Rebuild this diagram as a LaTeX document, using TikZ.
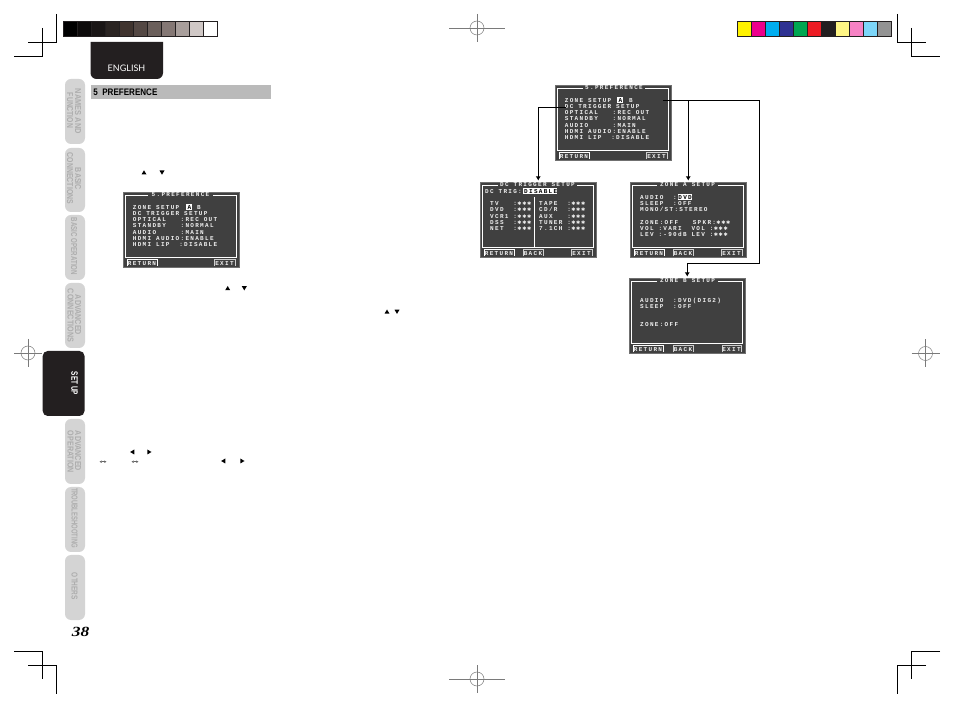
\documentclass[tikz,border=0pt]{standalone}
\usepackage{fontspec}
\setmainfont{Liberation Sans}
\newfontfamily\scrfont[LetterSpace=21.7]{Liberation Mono Bold}
\newfontfamily\symfont{DejaVu Sans}
\newfontfamily\langfont{Lato}
\newfontfamily\pagefont[FakeStretch=1.25]{Liberation Serif}
\usetikzlibrary{arrows.meta}
\definecolor{ink}{HTML}{231F20}
\definecolor{scrbg}{HTML}{404040}
\definecolor{tabgrey}{HTML}{D4D4D4}
\definecolor{tabtext}{HTML}{ADADAD}
\definecolor{regmark}{HTML}{7A7A7A}
\newcommand\scrf{\scrfont\fontsize{6}{6}\selectfont\fontdimen2\font=4.9pt\relax}
\tikzset{
  crop/.style={draw=black,line width=0.8pt},
  regline/.style={draw=regmark,line width=0.5pt},
  swatch/.style={draw=ink,line width=0.7pt,minimum width=14pt,minimum height=15pt,inner sep=0pt,anchor=north west},
  sidetab/.style={fill=tabgrey,draw=none,rounded corners=6pt},
  tablabel/.style={text=tabtext,rotate=-90,inner sep=0pt,font=\bfseries},
  scrbox/.style={fill=scrbg,draw=scrbg!75!white,line width=0.5pt,minimum width=116pt,minimum height=75pt,inner sep=0pt,anchor=north west},
  scrframe/.style={draw=white,line width=0.9pt},
  scrbtn/.style={draw=white,line width=0.9pt},
  scrbtnthin/.style={draw=white!75!scrbg,line width=0.5pt},
  scrtext/.style={text=white!92!scrbg,inner sep=0pt,anchor=west,yshift=-0.6pt,font=\scrf},
  scrmid/.style={text=white!92!scrbg,inner sep=0pt,anchor=center,yshift=-0.6pt,font=\scrf},
  scrinv/.style={text=black,inner sep=0pt,anchor=west,yshift=-0.6pt,font=\scrf},
  conn/.style={draw=black,line width=0.8pt,-{Latex[length=4pt,width=5pt]},shorten >=1.5pt},
  mini/.style={fill=black,draw=none},
  dblarrow/.style={draw=black!60,line width=0.4pt,{Latex[length=2.2pt,width=2.8pt]}-{Latex[length=2.2pt,width=2.8pt]}},
}
\newcount\rowcnt
\newcommand\st{{\symfont\fontsize{5}{5}\selectfont\makebox[4.9pt][c]{✱}}}
\newcommand\row[3]{\global\advance\rowcnt by 1 \node[scrtext] (txt\the\rowcnt) at (#1,#2) {#3};}
\newcommand\hilite[5]{\fill[white] (#1,#3-3) rectangle (#2,#3+3);\global\advance\rowcnt by 1 \node[scrinv] (txt\the\rowcnt) at (#4,#3) {#5};}
% name, x, y, title, gap-left, gap-right
\newcommand\screen[6]{%
  \node[scrbox] (#1) at (#2,#3) {};
  \begin{scope}[shift={(#2,#3)}]
    \draw[scrframe] (#5,3.5) -- (2.5,3.5) -- (2.5,65) -- (113.5,65) -- (113.5,3.5) -- (#6,3.5);
    \node[scrmid] (#1title) at ({(#5+#6)/2},2) {#4};
  \end{scope}}
% x1, x2, label, style  (inside a scope of the screen)
\newcommand\btn[5]{\draw[#4] (#1,74.5) -- (#1,67.2) -- (#2,67.2) -- (#2,74.5);\node[scrmid] (#5) at ({(#1+#2)/2},71) {#3};}
\newcommand\regm[4]{% name x y long-half
  \draw[regline] (#2-#4,#3) -- (#2+#4,#3);
  \draw[regline] (#2,#3-14) -- (#2,#3+14);
  \draw[regline] (#2,#3) circle[radius=7pt];}
\newcommand\triup[2]{\fill[mini] (#1-2.5,#2+2) -- (#1+2.5,#2+2) -- (#1,#2-2.2) -- cycle;}
\newcommand\tridn[2]{\fill[mini] (#1-2.5,#2-2) -- (#1+2.5,#2-2) -- (#1,#2+2.2) -- cycle;}
\newcommand\trilf[2]{\fill[mini] (#1+2,#2-2.5) -- (#1+2,#2+2.5) -- (#1-2.2,#2) -- cycle;}
\newcommand\trirt[2]{\fill[mini] (#1-2,#2-2.5) -- (#1-2,#2+2.5) -- (#1+2.2,#2) -- cycle;}
\newcommand\tablab[5]{\node[tablabel] (#1) at (#2,#3) {\resizebox{#4pt}{6pt}{#5}};}
\begin{document}
\begin{tikzpicture}[x=1pt,y=-1pt]
\useasboundingbox (0,0) rectangle (954,708);
\fill[white] (0,0) rectangle (954,708);
% crop marks
\draw[crop] (56.7,14) -- (56.7,42.7) -- (28,42.7);
\draw[crop] (42.7,28) -- (42.7,56.7) -- (14,56.7);
\draw[crop] (897.7,14) -- (897.7,42.7) -- (925.7,42.7);
\draw[crop] (911.7,28) -- (911.7,56.7) -- (940,56.7);
\draw[crop] (14,651.3) -- (42.7,651.3) -- (42.7,678.7);
\draw[crop] (28,665.3) -- (56.7,665.3) -- (56.7,694);
\draw[crop] (940,651.3) -- (911.3,651.3) -- (911.3,678.7);
\draw[crop] (926,665.3) -- (897.3,665.3) -- (897.3,694);
% registration marks
\regm{ra}{477}{28}{28}
\regm{rb}{477}{679}{28}
\regm{rc}{28}{353}{14}
\regm{rd}{925.5}{353.5}{14}
% colour bars
\foreach \c [count=\i from 0] in {000000,0D0B0B,1A1616,2A2422,40342F,544844,6B5F5B,847774,A89E9B,D0C8C6,FFFFFF}{
  \definecolor{cc}{HTML}{\c}
  \node[swatch,fill=cc] (g\i) at ({63.3+14*\i},21) {};
}
\foreach \c [count=\i from 0] in {FFF200,EC008C,00AEEF,2E3192,00A651,ED1C24,231F20,FFF685,F682C4,7DD6F9,939393}{
  \definecolor{cc}{HTML}{\c}
  \node[swatch,fill=cc] (k\i) at ({737.3+13.95*\i},21) {};
}
% language tab
\fill[ink] (90.5,42) -- (163,42) -- (163,73) arc[start angle=0,end angle=-90,radius=6pt] -- (96.5,79) arc[start angle=-90,end angle=-180,radius=6pt] -- cycle;
\node[text=white,inner sep=0pt,font=\langfont\fontsize{9}{9}\selectfont] (lang) at (126.5,68.3) {ENGLISH};
% heading bar
\fill[black!27] (91,85) rectangle (271,99);
\node[inner sep=0pt,anchor=west,font=\bfseries] (head) at (93.2,92) {\resizebox{64pt}{6.6pt}{5\ \ PREFERENCE}};
% side tabs
\fill[sidetab] (65,79) rectangle (85,144);
\fill[sidetab] (65,148) rectangle (85,212);
\fill[sidetab] (65,215) rectangle (85,280);
\fill[sidetab] (65,283) rectangle (85,348);
\fill[ink,rounded corners=5pt] (42.7,351) rectangle (84.5,416);
\fill[sidetab] (65,419) rectangle (85,484);
\fill[sidetab] (65,487) rectangle (85,552);
\fill[sidetab] (65,555) rectangle (85,620);
\tablab{t1a}{78}{111.5}{45}{NAMES AND}
\tablab{t1b}{70}{110.5}{35}{FUNCTION}
\tablab{t2a}{78}{179}{22}{BASIC}
\tablab{t2b}{70}{178.5}{51}{CONNECTIONS}
\tablab{t3}{74}{246.5}{57}{BASIC OPERATION}
\tablab{t4a}{78}{315}{40}{ADVANCED}
\tablab{t4b}{70.5}{315.5}{53}{CONNECTIONS}
\node[tablabel,text=white] (t5) at (74.5,383.5) {\resizebox{23pt}{6.5pt}{SET UP}};
\tablab{t6a}{78}{451}{40}{ADVANCED}
\tablab{t6b}{70.5}{452}{42}{OPERATION}
\tablab{t7}{74.5}{518}{60}{TROUBLESHOOTING}
\tablab{t8}{74.5}{586.5}{27}{OTHERS}
\node[inner sep=0pt,font=\pagefont\bfseries\itshape\fontsize{14}{14}\selectfont] (page) at (80.5,632) {38};
% mini triangles
\triup{144}{172.5} \tridn{162}{172.5}
\triup{227.7}{288.2} \tridn{244.3}{288.2}
\triup{387}{311.7} \tridn{397}{311.7}
\trilf{132.3}{452} \trirt{149.3}{452}
\trilf{223.3}{461} \trirt{242.3}{461}
\draw[dblarrow] (99.5,461.7) -- (106.5,461.7);
\draw[dblarrow] (131.5,461.7) -- (138.5,461.7);
% left preference screen
\screen{ml}{123}{192}{5.PREFERENCE}{25}{90}
\begin{scope}[shift={(123,192)}]
  \row{9.7}{15}{ZONE~SETUP}
  \hilite{63}{68.8}{15}{64.4}{A}
  \row{74}{15}{B}
  \row{9.7}{21}{DC~TRIGGER~SETUP}
  \row{9.7}{27}{OPTICAL~~~:REC~OUT}
  \row{9.7}{33}{STANDBY~~~:NORMAL}
  \row{9.7}{39.7}{AUDIO~~~~~:MAIN}
  \row{9.7}{45.7}{HDMI~AUDIO:ENABLE}
  \row{9.7}{51.7}{HDMI~LIP~~:DISABLE}
  \btn{4}{34}{RETURN}{scrbtn}{mlr}
  \btn{91}{112}{EXIT}{scrbtnthin}{mle}
\end{scope}
% right preference screen
\screen{mr}{555}{85}{5.PREFERENCE}{28}{90}
\begin{scope}[shift={(555,85)}]
  \row{9.7}{15}{ZONE~SETUP}
  \hilite{62}{68}{15}{63.5}{A}
  \row{74}{15}{B}
  \row{9.7}{21}{DC~TRIGGER~SETUP}
  \row{9.7}{27}{OPTICAL~~~:REC~OUT}
  \row{9.7}{33}{STANDBY~~~:NORMAL}
  \row{9.7}{39.7}{AUDIO~~~~~:MAIN}
  \row{9.7}{45.7}{HDMI~AUDIO:ENABLE}
  \row{9.7}{51.7}{HDMI~LIP~~:DISABLE}
  \btn{4}{34}{RETURN}{scrbtn}{mrr}
  \btn{91}{112}{EXIT}{scrbtnthin}{mre}
\end{scope}
% DC trigger screen
\screen{dc}{480}{182}{DC~TRIGGER~SETUP}{18}{97}
\begin{scope}[shift={(480,182)}]
  \row{5}{9}{DC~TRIG:}
  \hilite{43}{77}{9}{44}{DISABLE}
  \row{10}{21}{TV~~~:\st\st\st}
  \row{10}{27}{DVD~~:\st\st\st}
  \row{10}{33.5}{VCR1~:\st\st\st}
  \row{10}{40}{DSS~~:\st\st\st}
  \row{10}{46}{NET~~:\st\st\st}
  \row{59}{21}{TAPE~~:\st\st\st}
  \row{59}{27}{CD/R~~:\st\st\st}
  \row{59}{33.5}{AUX~~~:\st\st\st}
  \row{59}{40}{TUNER~:\st\st\st}
  \row{59}{46}{7.1CH~:\st\st\st}
  \draw[scrframe] (54,15) -- (54,65);
  \btn{4}{34}{RETURN}{scrbtn}{dcr}
  \btn{43}{63}{BACK}{scrbtnthin}{dcb}
  \btn{91}{112}{EXIT}{scrbtnthin}{dce}
\end{scope}
% zone A screen
\screen{za}{630}{182}{ZONE~A~SETUP}{27}{88}
\begin{scope}[shift={(630,182)}]
  \row{10}{15}{AUDIO~~:}
  \hilite{47.7}{62}{15}{48.2}{DVD}
  \row{10}{21}{SLEEP~~:OFF}
  \row{10}{27}{MONO/ST:STEREO}
  \row{10}{39.7}{ZONE:OFF~~~SPKR:\st\st\st}
  \row{10}{46}{VOL~:VARI~~VOL~:\st\st\st}
  \row{10}{52}{LEV~:-90dB~LEV~:\st\st\st}
  \btn{4}{34}{RETURN}{scrbtn}{zar}
  \btn{43}{63}{BACK}{scrbtnthin}{zab}
  \btn{91}{112}{EXIT}{scrbtnthin}{zae}
\end{scope}
% zone B screen
\screen{zb}{629}{278}{ZONE~B~SETUP}{28}{89}
\begin{scope}[shift={(629,278)}]
  \row{11}{22}{AUDIO~~:DVD(DIG2)}
  \row{11}{28}{SLEEP~~:OFF}
  \row{11}{46}{ZONE:OFF}
  \btn{4}{34}{RETURN}{scrbtn}{zbr}
  \btn{44}{64}{BACK}{scrbtnthin}{zbb}
  \btn{93}{112}{EXIT}{scrbtnthin}{zbe}
\end{scope}
% connectors
\coordinate (fromTrig) at (566,107);
\coordinate (fromZone) at (663,100);
\coordinate (bendR) at (759,263);
\draw[conn] (fromTrig) -| (dc.north);
\draw[conn] (fromZone) -| (za.north);
\draw[conn] (fromZone) -| (bendR) -| (zb.north);
\end{tikzpicture}
\end{document}
